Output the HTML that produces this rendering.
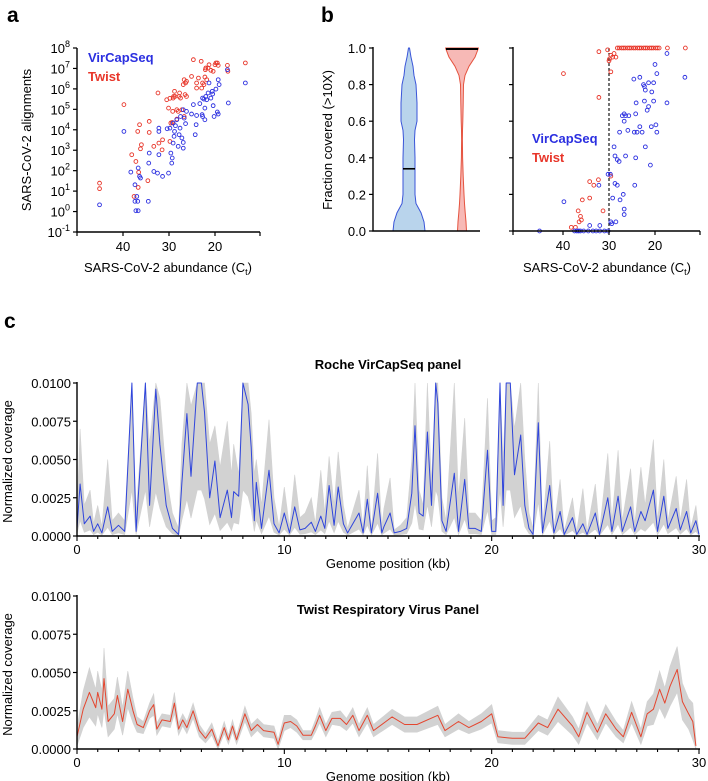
<!DOCTYPE html>
<html><head><meta charset="utf-8">
<style>
html,body{margin:0;padding:0;background:#fff;}
svg{display:block;font-family:"Liberation Sans",Arial,sans-serif;}
</style></head>
<body>
<svg id="fig" width="708" height="781" viewBox="0 0 708 781" xmlns="http://www.w3.org/2000/svg">
  <text x="7" y="22" font-size="21" font-weight="bold">a</text>
  <text x="321" y="22" font-size="21" font-weight="bold">b</text>
  <text x="4" y="328" font-size="21" font-weight="bold">c</text>
  <g id="pa"></g>
  <g id="pbv"></g>
  <g id="pbs"></g>
  <g id="pc1"></g>
  <g id="pc2"></g>
</svg>
<script>
// ---------- Panel a data ----------
const aBlueCt=[45.1,39.8,38.3,37.4,37.4,37.0,37.2,36.7,36.8,36.7,36.4,36.2,34.5,34.4,34.3,33.3,32.5,32.2,32.2,31.4,32.2,30.1,30.4,29.8,29.6,29.4,29.3,29.1,28.9,29.1,28.8,28.6,28.3,28.0,27.8,27.6,27.5,27.2,26.9,26.9,26.9,26.7,26.4,26.2,25.1,24.7,24.3,24.1,24.0,23.3,22.8,22.7,22.7,22.4,22.2,22.2,22.0,21.8,21.5,21.3,20.9,20.5,20.6,20.4,20.2,19.8,19.5,19.3,19.1,19.3,17.1,17.3,13.4];
const aBlueLog=[0.33,3.92,1.93,1.31,0.5,0.74,0.04,0.04,0.5,2.13,1.72,1.64,0.5,2.37,2.86,1.96,1.88,4.08,3.92,1.72,2.78,1.88,4.05,4.08,2.86,2.37,2.62,3.35,3.68,4.33,3.92,4.2,4.49,3.19,3.76,4.08,4.65,3.6,3.1,3.38,4.98,4.57,4.3,4.9,4.77,5.23,3.76,4.25,4.7,5.28,4.74,4.65,5.55,5.5,4.49,5.06,5.63,5.47,5.8,6.29,5.55,5.75,5.88,5.18,4.65,5.99,4.87,6.45,6.21,4.77,5.31,6.94,6.29];
const aRedCt=[45.1,45.1,39.8,38.1,37.6,37.2,36.8,36.6,36.7,36.4,36.2,36.0,34.6,34.3,34.3,33.3,32.4,32.2,31.5,31.4,30.5,30.1,29.8,29.8,29.6,29.3,29.2,29.1,29.0,28.8,28.7,28.3,28.3,28.0,27.8,27.7,27.5,27.2,26.9,26.7,26.5,26.7,26.4,26.2,26.2,25.1,24.7,24.0,24.0,23.6,23.0,22.9,22.7,22.4,22.2,22.1,22.0,21.8,21.5,21.3,20.9,20.4,20.0,19.8,19.5,19.3,17.3,17.2,13.4];
const aRedLog=[1.39,1.12,5.23,2.78,0.74,2.45,3.92,1.92,1.18,4.25,3.07,3.27,1.51,3.87,4.41,3.19,5.8,3.35,3.02,3.51,5.47,5.06,5.54,3.43,4.33,4.36,4.9,5.55,5.63,5.88,5.63,4.98,4.52,4.9,5.63,5.8,5.55,4.98,6.21,6.45,5.72,4.65,6.29,6.37,5.63,6.61,7.43,6.29,6.04,6.53,7.35,6.04,6.29,6.21,6.58,6.94,7.02,6.45,7.02,7.18,6.91,6.86,7.18,7.27,7.27,7.15,7.15,6.86,7.27];
const aYTicks=[8,7,6,5,4,3,2,1,0,-1];
const ctTicks=[40,30,20];

// ---------- Panel b data ----------
const vLevels=[0,0.05,0.1,0.15,0.2,0.3,0.4,0.5,0.55,0.6,0.7,0.8,0.85,0.9,0.95,1.0];
const vBlueW=[16,15,12,7,6,6,6,5.5,6,8,8,7,5,4,2,0.5];
const vRedW=[4.5,4,3.2,2.5,2,1.2,0.6,0.4,0.5,0.8,1.2,1.5,3,7,13,16.5];
const vBlueMedian=0.34;
const vRedMedian=1.0;
const fracTicks=[0,0.2,0.4,0.6,0.8,1.0];
const bRedCt=[39.9,32.2,32.2,31.3,30.3,30.0,29.9,29.6,29.6,29.2,28.9,28.5,29.6,33.3,34.2,32.3,34.2,35.8,36.2,36.0,36.7,36.5,38.2,37.3,28.2,27.8,27.3,26.9,26.5,26.0,25.6,25.2,24.7,24.3,23.8,23.4,23.0,22.5,22.1,21.7,21.2,20.8,20.4,19.9,19.5,19.1,17.3,13.4];
const bRedFrac=[0.86,0.73,0.98,0.11,0.99,0.93,0.94,0.87,0.96,0.95,0.97,0.95,0.30,0.25,0.27,0.28,0.18,0.17,0.08,0.06,0.11,0.05,0.02,0.02,1,1,1,1,1,1,1,1,1,1,1,1,1,1,1,1,1,1,1,1,1,1,1,1];
const bBlueCt=[45.1,39.8,37.5,37.0,36.6,36.2,35.5,34.5,33.5,32.8,32.0,31.0,30.2,34.2,32.0,32.2,30.2,29.7,29.6,29.4,28.5,28.9,28.7,28.2,28.7,28.2,27.8,29.2,27.7,27.6,27.1,26.7,26.4,26.7,26.9,26.7,26.7,26.4,25.9,25.7,24.6,24.5,24.4,24.2,24.2,24.1,23.9,23.3,23.3,22.8,22.5,22.3,22.1,22.3,22.1,21.7,21.4,21.4,21.0,20.8,20.7,20.3,20.3,20.0,19.8,19.6,19.6,17.4,17.4,13.5];
const bBlueFrac=[0,0.16,0,0,0,0,0,0,0,0,0,0,0,0.03,0.03,0.25,0.31,0.31,0.05,0.04,0.05,0.46,0.26,0.25,0.41,0.39,0.38,0.18,0.54,0.17,0.63,0.64,0.63,0.60,0.2,0.12,0.09,0.41,0.55,0.63,0.83,0.54,0.25,0.4,0.64,0.7,0.54,0.84,0.57,0.54,0.8,0.79,0.77,0.71,0.46,0.66,0.81,0.68,0.36,0.57,0.76,0.71,0.81,0.91,0.58,0.86,0.54,0.97,0.7,0.84];
const ctThreshold=30;

// ---------- Panel c data (coverage in units of 0.001) ----------
const rochePos=[0,0.15,0.35,0.63,0.8,1.0,1.2,1.48,1.7,2.0,2.3,2.65,2.85,3.3,3.5,3.8,4.0,4.3,4.6,4.9,5.06,5.3,5.5,5.8,6.0,6.15,6.4,6.65,6.9,7.25,7.45,7.56,7.8,8.0,8.25,8.4,8.55,8.65,8.9,9.26,9.5,9.75,10.0,10.25,10.5,10.75,11.0,11.3,11.5,11.76,11.95,12.16,12.4,12.6,12.85,13.05,13.6,13.8,14.0,14.2,14.5,14.7,14.8,15.1,15.3,15.6,15.9,16.15,16.3,16.5,16.7,16.9,17.1,17.3,17.4,17.6,17.8,18.2,18.4,18.7,18.9,19.2,19.5,19.8,20.0,20.2,20.4,20.55,20.7,20.9,21.1,21.4,21.6,21.8,22.0,22.25,22.45,22.8,23.0,23.3,23.5,23.9,24.1,24.4,24.6,25.0,25.2,25.6,25.8,26.1,26.3,26.7,26.9,27.2,27.4,27.8,28.0,28.3,28.5,28.9,29.1,29.4,29.6,29.85,30];
const rocheMean=[0.5,3.4,0.8,1.3,0.3,0.8,0.2,1.9,0.3,0.7,0.3,10,0.3,10,2.0,9.6,6.0,2.0,0.5,0.1,3.5,8.0,3.9,10,10,8.1,2.5,4.9,1.2,3.0,1.2,2.9,2.6,10,8.6,5.8,1.0,3.5,0.5,4.3,0.8,0.2,1.5,0.2,1.9,0.4,0.5,0.9,0.3,1.3,0.5,3.3,0.7,3.2,0.8,0.2,1.5,0.2,2.4,0.2,2.8,0.2,0.6,1.5,0.2,0.3,0.5,2.8,7.2,1.5,1.3,6.8,2.0,10,8.7,1.0,0.3,4.1,0.3,3.7,0.5,0.5,0.3,5.6,0.3,0.3,10,2.0,10,10,4.0,6.6,2.0,0.5,0.1,7.4,0.2,3.3,0.2,1.6,0.1,1.2,0.1,0.8,0.1,1.5,0.1,2.5,0.3,2.6,0.3,1.9,0.3,1.6,1.0,3.0,0.3,2.6,0.5,1.8,0.4,1.6,0.2,1.0,0.1];
const rocheUpper=[1.5,7.0,2.0,3.0,0.8,2.0,0.6,5.0,1.0,1.5,1.0,10,1.5,10,6.0,10,9.0,4.0,1.5,0.5,6.0,10,8.5,10,10,10,6.0,7.2,4.5,7.5,4.0,6.0,4.0,10,10,8.0,4.0,5.0,2.0,7.6,2.5,0.6,3.2,0.6,4.0,1.2,1.5,2.5,0.8,4.3,1.5,5.2,2.0,5.5,2.0,0.5,3.0,0.5,4.6,0.4,5.4,0.6,1.8,3.8,0.4,0.7,1.2,5.0,10,3.0,2.0,10,3.5,10,10,2.5,1.0,10,2.5,7.7,1.5,1.5,1.0,9.0,1.0,1.2,10,5.0,10,10,7.0,10,5.0,1.5,0.5,10,0.5,6.2,0.5,3.7,0.3,2.5,0.3,3.1,0.3,3.4,0.3,5.4,1.0,5.6,1.0,4.4,0.8,4.5,2.0,6.3,1.0,5.0,1.0,3.9,1.0,3.7,0.5,2.0,0.2];
const twistPos=[0,0.3,0.6,0.9,1.0,1.2,1.3,1.5,1.8,1.95,2.2,2.45,2.7,2.9,3.2,3.5,3.7,3.85,4.1,4.5,4.7,4.9,5.1,5.3,5.6,5.9,6.2,6.5,6.8,7.1,7.3,7.5,7.7,8.1,8.4,8.7,9.0,9.5,9.7,10.0,10.3,10.6,10.9,11.3,11.5,11.7,12.0,12.3,12.7,13.0,13.3,13.6,14.0,14.3,15.2,15.8,16.4,17.4,17.75,18.4,18.9,19.5,20.0,20.3,21.0,21.6,22.25,22.7,23.2,23.9,24.2,24.6,25.1,25.5,26.0,26.35,26.75,27.2,27.5,27.8,28.1,28.35,28.6,28.95,29.2,29.5,29.7,29.85];
const twistMean=[0.8,2.6,3.7,2.7,3.7,2.6,4.6,1.8,2.3,3.5,1.8,3.9,2.5,1.6,1.4,2.5,2.9,1.3,1.9,1.8,3.0,1.3,1.9,1.4,2.5,1.2,0.7,1.3,0.2,1.4,0.6,1.5,0.6,2.3,1.2,1.6,1.2,1.1,0.3,1.7,1.8,1.5,0.9,0.9,1.5,2.2,1.2,2.0,2.0,1.6,2.2,1.2,2.2,1.2,2.1,1.6,1.6,2.2,1.2,1.8,1.4,1.8,2.3,0.8,0.7,0.7,1.7,1.4,2.6,1.5,0.8,2.4,1.1,2.3,1.3,0.8,2.4,0.8,2.3,2.6,3.9,3.0,4.1,5.2,3.1,2.3,1.8,0.2];
const twistSpread=[0.6,1.2,1.6,1.2,1.4,1.2,2.0,1.0,1.0,1.2,0.9,1.2,0.8,0.5,0.4,0.5,0.7,0.4,0.4,0.4,0.7,0.4,0.4,0.4,0.5,0.4,0.3,0.4,0.3,0.4,0.3,0.4,0.3,0.5,0.4,0.4,0.4,0.4,0.3,0.5,0.4,0.4,0.3,0.3,0.4,0.5,0.4,0.4,0.5,0.4,0.5,0.4,0.5,0.4,0.5,0.5,0.5,0.6,0.4,0.5,0.4,0.5,0.6,0.4,0.4,0.4,0.5,0.5,0.8,0.6,0.5,0.7,0.5,0.6,0.5,0.4,0.7,0.5,0.8,1.0,1.2,1.0,1.3,1.5,1.2,1.0,1.2,0.5];
const covTicks=[0,0.0025,0.005,0.0075,0.01];
const kbTicks=[0,10,20,30];

// ---------- helpers ----------
const NS="http://www.w3.org/2000/svg";
function mk(parent,tag,attrs,text){
  const e=document.createElementNS(NS,tag);
  for(const k in attrs) e.setAttribute(k,attrs[k]);
  if(text!==undefined) e.textContent=text;
  parent.appendChild(e);
  return e;
}
const BLUE="#2b2fe0", RED="#e8362a", LBLUE="#3a55d8", LRED="#e5533f";

// ===== Panel a =====
(function(){
  const g=document.getElementById('pa');
  const X0=77,X1=260,Y0=232,Y1=48;
  const xs=ct=>123+(40-ct)*4.6;
  const ys=l=>Y0-(l+1)*(Y0-Y1)/9;
  let ax=mk(g,'path',{d:`M${X0},${Y1}V${Y0}H${X1}`,fill:'none',stroke:'#000','stroke-width':1.4});
  
  
  aYTicks.forEach(t=>{
    const y=ys(t);
    let tk=mk(g,'line',{x1:X0-4,x2:X0,y1:y,y2:y,stroke:'#000','stroke-width':1.2});
    
    
    let tx=mk(g,'text',{x:X0-7,y:y+5,'text-anchor':'end','font-size':13});
    
    
    mk(tx,'tspan',{},'10');
    mk(tx,'tspan',{dy:-6,'font-size':9},String(t));
  });
  [X0].concat(ctTicks.map(xs)).concat([X1]).forEach(x=>{
    let tk=mk(g,'line',{x1:x,x2:x,y1:Y0,y2:Y0+4,stroke:'#000','stroke-width':1.2});
    
    
  });
  ctTicks.forEach(t=>{
    let tx=mk(g,'text',{x:xs(t),y:Y0+19,'text-anchor':'middle','font-size':13},String(t));
    
    
  });
  let xl=mk(g,'text',{x:168,y:272,'text-anchor':'middle','font-size':13});
  
  
  mk(xl,'tspan',{},'SARS-CoV-2 abundance (C');
  mk(xl,'tspan',{'font-size':9,dy:3},'t');
  mk(xl,'tspan',{dy:-3},')');
  let yl=mk(g,'text',{x:0,y:0,transform:'translate(31,140) rotate(-90)','text-anchor':'middle','font-size':13},'SARS-CoV-2 alignments');
  
  
  aRedCt.forEach((c,i)=>{
    let p=mk(g,'circle',{cx:xs(c),cy:ys(aRedLog[i]),r:1.9,fill:'none',stroke:RED,'stroke-width':0.9});
    
    
  });
  aBlueCt.forEach((c,i)=>{
    let p=mk(g,'circle',{cx:xs(c),cy:ys(aBlueLog[i]),r:1.9,fill:'none',stroke:BLUE,'stroke-width':0.9});
    
    
  });
  let l1=mk(g,'text',{x:88,y:62,'font-size':13,'font-weight':'bold',fill:BLUE},'VirCapSeq');
  
  
  let l2=mk(g,'text',{x:88,y:81,'font-size':13,'font-weight':'bold',fill:RED},'Twist');
  
  
})();

// ===== Panel b violin =====
(function(){
  const g=document.getElementById('pbv');
  const X0=373,X1=480,Y0=231,Y1=48;
  const ys=f=>Y0-f*(Y0-Y1);
  function violin(cx,w,fill,stroke,name){
    let d='M'+cx+','+ys(vLevels[0]);
    vLevels.forEach((l,i)=>{d+=' L'+(cx+w[i])+','+ys(l);});
    for(let i=vLevels.length-1;i>=0;i--) d+=' L'+(cx-w[i])+','+ys(vLevels[i]);
    d+='Z';
    let p=mk(g,'path',{d:d,fill:fill,stroke:stroke,'stroke-width':1,'stroke-linejoin':'round'});
    
    
  }
  violin(409,vBlueW,'#b9d4ec',LBLUE,'violin-vircapseq');
  violin(462,vRedW,'#f7b9b6',LRED,'violin-twist');
  let m1=mk(g,'line',{x1:403,x2:415,y1:ys(vBlueMedian),y2:ys(vBlueMedian),stroke:'#000','stroke-width':1.6});
  
  
  let m2=mk(g,'line',{x1:446,x2:478,y1:ys(vRedMedian)+1,y2:ys(vRedMedian)+1,stroke:'#000','stroke-width':2});
  
  
  let ax=mk(g,'path',{d:`M${X0},${Y1-1}V${Y0}H${X1}`,fill:'none',stroke:'#000','stroke-width':1.4});
  
  
  fracTicks.forEach(t=>{
    const y=ys(t);
    let tk=mk(g,'line',{x1:X0-4,x2:X0,y1:y,y2:y,stroke:'#000','stroke-width':1.2});
    
    
    let tx=mk(g,'text',{x:X0-7,y:y+5,'text-anchor':'end','font-size':13},t.toFixed(1));
    
    
  });
  let yl=mk(g,'text',{x:0,y:0,transform:'translate(332,140) rotate(-90)','text-anchor':'middle','font-size':13},'Fraction covered (>10X)');
  
  
})();

// ===== Panel b scatter =====
(function(){
  const g=document.getElementById('pbs');
  const X0=513,X1=700,Y0=231,Y1=48;
  const xs=ct=>609+(30-ct)*4.6;
  const ys=f=>Y0-f*(Y0-Y1);
  let dl=mk(g,'line',{x1:xs(ctThreshold),x2:xs(ctThreshold),y1:Y1,y2:Y0,stroke:'#000','stroke-width':1.1,'stroke-dasharray':'3,2'});
  
  
  bRedCt.forEach((c,i)=>{
    let p=mk(g,'circle',{cx:xs(c),cy:ys(bRedFrac[i]),r:1.9,fill:'none',stroke:RED,'stroke-width':0.9});
    
    
  });
  bBlueCt.forEach((c,i)=>{
    let p=mk(g,'circle',{cx:xs(c),cy:ys(bBlueFrac[i]),r:1.9,fill:'none',stroke:BLUE,'stroke-width':0.9});
    
    
  });
  let ax=mk(g,'path',{d:`M${X0},${Y1-1}V${Y0}H${X1}`,fill:'none',stroke:'#000','stroke-width':1.4});
  
  
  fracTicks.forEach(t=>{
    let tk=mk(g,'line',{x1:X0-4,x2:X0,y1:ys(t),y2:ys(t),stroke:'#000','stroke-width':1.2});
    
    
  });
  [X0].concat(ctTicks.map(xs)).concat([X1]).forEach(x=>{
    let tk=mk(g,'line',{x1:x,x2:x,y1:Y0,y2:Y0+4,stroke:'#000','stroke-width':1.2});
    
    
  });
  ctTicks.forEach(t=>{
    let tx=mk(g,'text',{x:xs(t),y:Y0+19,'text-anchor':'middle','font-size':13},String(t));
    
    
  });
  let xl=mk(g,'text',{x:607,y:272,'text-anchor':'middle','font-size':13});
  
  
  mk(xl,'tspan',{},'SARS-CoV-2 abundance (C');
  mk(xl,'tspan',{'font-size':9,dy:3},'t');
  mk(xl,'tspan',{dy:-3},')');
  let l1=mk(g,'text',{x:532,y:143,'font-size':13,'font-weight':'bold',fill:BLUE},'VirCapSeq');
  
  
  let l2=mk(g,'text',{x:532,y:162,'font-size':13,'font-weight':'bold',fill:RED},'Twist');
  
  
})();

// ===== Panel c =====
function coverage(gid,Y1,Y0,title,titleY,pos,mean,lower,upper,color,lineName){
  const g=document.getElementById(gid);
  const X0=77,X1=699;
  const xs=kb=>X0+kb*(X1-X0)/30;
  const ys=v=>Y0-Math.min(v,10)*(Y0-Y1)/10;
  let d='';
  pos.forEach((p,i)=>{d+=(i?'L':'M')+xs(p).toFixed(1)+','+ys(upper[i]).toFixed(1);});
  for(let i=pos.length-1;i>=0;i--) d+='L'+xs(pos[i]).toFixed(1)+','+ys(lower[i]).toFixed(1);
  d+='Z';
  let band=mk(g,'path',{d:d,fill:'#d2d2d2',stroke:'#d2d2d2','stroke-width':0.6});
  
  
  let ld='';
  pos.forEach((p,i)=>{ld+=(i?'L':'M')+xs(p).toFixed(1)+','+ys(mean[i]).toFixed(1);});
  let ln=mk(g,'path',{d:ld,fill:'none',stroke:color,'stroke-width':1,'stroke-linejoin':'round'});
  
  
  let ax=mk(g,'path',{d:`M${X0},${Y1-1}V${Y0}H${X1+1}`,fill:'none',stroke:'#000','stroke-width':1.4});
  
  
  covTicks.forEach(t=>{
    const y=ys(t*1000);
    let tk=mk(g,'line',{x1:X0-4,x2:X0,y1:y,y2:y,stroke:'#000','stroke-width':1.2});
    
    
    let tx=mk(g,'text',{x:X0-6,y:y+5,'text-anchor':'end','font-size':13},t.toFixed(4));
    
    
  });
  for(let k=0;k<=30;k++){
    const big=kbTicks.indexOf(k)>=0;
    let tk=mk(g,'line',{x1:xs(k),x2:xs(k),y1:Y0,y2:Y0+(big?5:3),stroke:'#000','stroke-width':1.1});
    
    
  }
  kbTicks.forEach(t=>{
    let tx=mk(g,'text',{x:xs(t),y:Y0+18,'text-anchor':'middle','font-size':13},String(t));
    
    
  });
  let xl=mk(g,'text',{x:388,y:Y0+32,'text-anchor':'middle','font-size':13},'Genome position (kb)');
  
  
  let yl=mk(g,'text',{x:0,y:0,transform:`translate(12,${(Y0+Y1)/2+2}) rotate(-90)`,'text-anchor':'middle','font-size':13},'Normalized coverage');
  
  
  let tt=mk(g,'text',{x:388,y:titleY,'text-anchor':'middle','font-size':13,'font-weight':'bold'},title);
  
  
}
const rocheLower=rocheMean.map(v=>v*0.3);
const twistLower=twistMean.map((v,i)=>Math.max(0,v-twistSpread[i]));
const twistUpper=twistMean.map((v,i)=>v+twistSpread[i]);
coverage('pc1',383,536,'Roche VirCapSeq panel',369,rochePos,rocheMean,rocheLower,rocheUpper,'#2f45dc','roche-mean-line');
coverage('pc2',596,749,'Twist Respiratory Virus Panel',614,twistPos,twistMean,twistLower,twistUpper,'#e4462f','twist-mean-line');
</script>
</body></html>
